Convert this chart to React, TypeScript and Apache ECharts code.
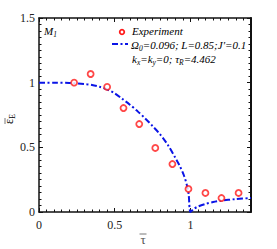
import React, { useEffect, useRef } from "react";
import * as echarts from "echarts";

const expTau = [0.232, 0.341, 0.45, 0.558, 0.662, 0.768, 0.881, 0.987, 1.099, 1.205, 1.318];
const expEps = [1.0, 1.067, 0.967, 0.804, 0.68, 0.495, 0.371, 0.178, 0.147, 0.108, 0.147];

const theoryTau = [0, 0.1, 0.2, 0.3, 0.35, 0.4, 0.45, 0.5, 0.55, 0.6, 0.65, 0.7, 0.75, 0.8, 0.85, 0.9, 0.93, 0.956, 0.975, 0.988, 1.0, 1.02, 1.046, 1.1, 1.15, 1.2, 1.3, 1.4];
const theoryEps = [1.0, 1.0, 0.998, 0.99, 0.982, 0.968, 0.948, 0.918, 0.875, 0.83, 0.78, 0.725, 0.665, 0.6, 0.52, 0.42, 0.355, 0.286, 0.215, 0.14, 0.0, 0.022, 0.04, 0.062, 0.077, 0.087, 0.1, 0.108];

const xTickLabels = ["0", "0.5", "1"];
const yTickLabels = ["0", "0.5", "1", "1.5"];

const SERIF = "'Liberation Serif', 'DejaVu Serif', serif";
const BLUE = "#0a14e6";
const RED = "#ff1a1a";

export default function App() {
  const ref = useRef<HTMLDivElement>(null);
  useEffect(() => {
    if (!ref.current) return;
    const chart = echarts.init(ref.current, null, { renderer: "svg" });
    const fmt = (list: string[]) => (v: number) => {
      const s = String(Math.round(v * 100) / 100);
      return list.includes(s) ? s : "";
    };
    const axisCommon = {
      axisLine: { show: true, onZero: false, lineStyle: { color: "#111", width: 1.5 } },
      axisTick: { show: true, inside: true, length: 4, lineStyle: { color: "#111", width: 1 } },
      minorTick: { show: true, splitNumber: 10, length: 2.5, lineStyle: { color: "#111", width: 1 } },
      splitLine: { show: false },
    };
    const rich = {
      n: { fontFamily: SERIF, fontStyle: "italic", fontSize: 11, color: "#111" },
      s: { fontFamily: SERIF, fontStyle: "italic", fontSize: 7.5, color: "#111", padding: [7, 0, 0, 0] },
    };
    chart.setOption({
      animation: false,
      grid: { left: 39, right: 26, top: 18, bottom: 37 },
      xAxis: [
        {
          type: "value", min: 0, max: 1.4, interval: 0.5, position: "bottom",
          ...axisCommon,
          axisLabel: { show: true, formatter: fmt(xTickLabels), fontFamily: SERIF, fontSize: 12, color: "#222", margin: 7, showMaxLabel: false },
        },
        {
          type: "value", min: 0, max: 1.4, interval: 0.5, position: "top",
          ...axisCommon,
          axisLabel: { show: false },
        },
      ],
      yAxis: [
        {
          type: "value", min: 0, max: 1.5, interval: 0.5, position: "left",
          ...axisCommon,
          axisLabel: { show: true, formatter: fmt(yTickLabels), fontFamily: SERIF, fontSize: 12, color: "#222", margin: 4 },
        },
        {
          type: "value", min: 0, max: 1.5, interval: 0.5, position: "right",
          ...axisCommon,
          axisLine: { show: true, onZero: false, lineStyle: { color: "#111", width: 2 } },
          axisLabel: { show: false },
        },
      ],
      series: [
        {
          type: "line",
          data: theoryTau.map((t, i) => [t, theoryEps[i]]),
          showSymbol: false,
          smooth: 0.3,
          lineStyle: { color: BLUE, width: 2, type: [6, 2.5, 2, 2.5] },
          z: 2,
        },
        {
          type: "scatter",
          data: expTau.map((t, i) => [t, expEps[i]]),
          symbol: "circle",
          symbolSize: 6,
          itemStyle: { color: "#fff", borderColor: RED, borderWidth: 1.8 },
          z: 3,
        },
      ],
      graphic: [
        {
          type: "text", x: 44, y: 31,
          style: { text: "{n|M}{s|1}", rich, verticalAlign: "middle" },
        },
        { type: "circle", shape: { cx: 122, cy: 32, r: 2.3 }, style: { fill: "#fff", stroke: RED, lineWidth: 1.8 } },
        { type: "line", shape: { x1: 112, y1: 44, x2: 128, y2: 44 }, style: { stroke: BLUE, lineWidth: 2, lineDash: [6, 2.5, 2, 2.5] } },
        {
          type: "text", x: 132, y: 31,
          style: { text: "{n|Experiment}", rich, verticalAlign: "middle" },
        },
        {
          type: "text", x: 131, y: 45,
          style: { text: "{n|Ω}{s|0}{n|=0.096; L=0.85;J'=0.1}", rich, verticalAlign: "middle" },
        },
        {
          type: "text", x: 132, y: 59,
          style: { text: "{n|k}{s|x}{n|=k}{s|y}{n|=0; τ}{s|R}{n|=4.462}", rich, verticalAlign: "middle" },
        },
        {
          type: "text", x: 2, y: 124, rotation: Math.PI / 2,
          style: {
            text: "{a|ε}{b|E}",
            verticalAlign: "top",
            rich: {
              a: { fontFamily: SERIF, fontSize: 12, color: "#555" },
              b: { fontFamily: SERIF, fontSize: 8, color: "#555", padding: [6, 0, 0, 0] },
            },
          },
        },
        { type: "line", shape: { x1: 5, y1: 124, x2: 5, y2: 118 }, style: { stroke: "#555", lineWidth: 0.8 } },
        {
          type: "text", x: 143, y: 239,
          style: { text: "τ", fontFamily: SERIF, fontSize: 13, fill: "#555", align: "center", verticalAlign: "middle" },
        },
        { type: "line", shape: { x1: 139.5, y1: 234, x2: 146.5, y2: 234 }, style: { stroke: "#555", lineWidth: 0.8 } },
      ],
    });
    return () => chart.dispose();
  }, []);
  return <div ref={ref} style={{ position: "fixed", left: 0, top: 0, width: 277, height: 249, background: "#fff" }} />;
}
